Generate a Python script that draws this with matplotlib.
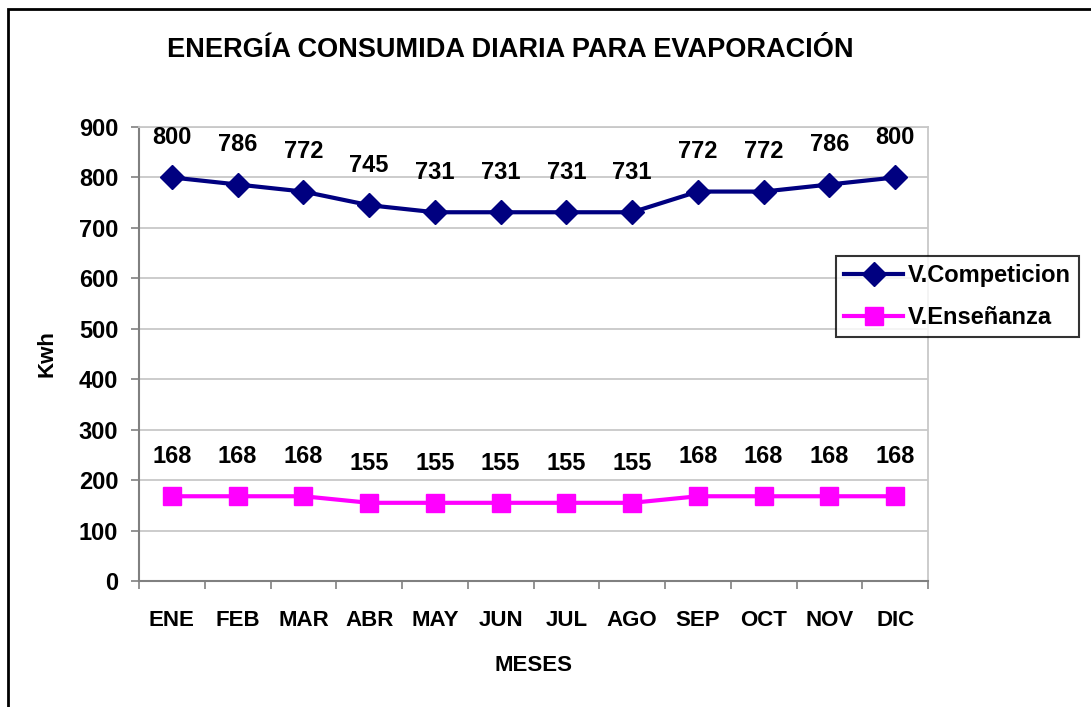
import matplotlib
matplotlib.use("Agg")
import matplotlib.pyplot as plt
from matplotlib.patches import Rectangle
import numpy as np

months = ["ENE", "FEB", "MAR", "ABR", "MAY", "JUN", "JUL", "AGO", "SEP", "OCT", "NOV", "DIC"]
competicion = [800, 786, 772, 745, 731, 731, 731, 731, 772, 772, 786, 800]
ensenanza = [168, 168, 168, 155, 155, 155, 155, 155, 168, 168, 168, 168]
yticks = [0, 100, 200, 300, 400, 500, 600, 700, 800, 900]

plt.rcParams['font.family'] = ['Liberation Sans', 'DejaVu Sans']
plt.rcParams['font.weight'] = 'bold'

W, H = 1091, 707
fig = plt.figure(figsize=(W / 100, H / 100), dpi=100)
ax = fig.add_axes([139 / W, 1 - 581 / H, (928 - 139) / W, (581 - 127) / H])

x = np.arange(len(months))
ax.plot(x, competicion, color="#000080", lw=3, marker="D", ms=12,
        mfc="#000080", mec="#000080", label="V.Competicion", zorder=3)
ax.plot(x, ensenanza, color="#FF00FF", lw=3, marker="s", ms=13,
        mfc="#FF00FF", mec="#FF00FF", label="V.Enseñanza", zorder=3)

for xi, v in zip(x, competicion):
    ax.annotate(str(v), (xi, v), xytext=(0, 28.5), textcoords="offset points",
                ha="center", va="center", fontsize=17, fontweight="bold")
for xi, v in zip(x, ensenanza):
    ax.annotate(str(v), (xi, v), xytext=(0, 28.5), textcoords="offset points",
                ha="center", va="center", fontsize=17, fontweight="bold")

ax.set_xlim(-0.5, len(months) - 0.5)
ax.set_ylim(0, 900)
ax.set_yticks(yticks)
ax.set_yticklabels([str(t) for t in yticks], fontsize=17, fontweight="bold")
ax.set_xticks(x)
ax.set_xticklabels(months, fontsize=16, fontweight="bold")
ax.tick_params(axis="x", which="major", length=0, pad=21)
ax.set_xticks(np.arange(-0.5, len(months), 1), minor=True)
ax.tick_params(axis="x", which="minor", length=6, width=1.2, color="#808080", direction="out")
ax.tick_params(axis="y", length=6, width=1.2, color="#808080", direction="out", pad=9)

ax.grid(axis="y", color="#C8C8C8", lw=1.3, zorder=0)
ax.set_axisbelow(True)
for s in ["left", "bottom"]:
    ax.spines[s].set_color("#808080")
    ax.spines[s].set_linewidth(1.5)
for s in ["top", "right"]:
    ax.spines[s].set_color("#C8C8C8")
    ax.spines[s].set_linewidth(1.3)

ax.set_xlabel("MESES", fontsize=16, fontweight="bold", labelpad=17)
ax.set_ylabel("Kwh", fontsize=16, fontweight="bold", labelpad=15)

fig.text(510 / W, 1 - 50 / H, "ENERGÍA CONSUMIDA DIARIA PARA EVAPORACIÓN",
         ha="center", va="center", fontsize=19.5, fontweight="bold")

leg = fig.legend(loc="upper left", bbox_to_anchor=(836 / W, 1 - 256 / H),
                 fontsize=17, frameon=True, fancybox=False, edgecolor="black",
                 handlelength=2.5, borderpad=0.35, labelspacing=0.8,
                 handletextpad=0.2, borderaxespad=0)
leg.get_frame().set_linewidth(1.5)
for t in leg.get_texts():
    t.set_fontweight("bold")

fig.patches.append(Rectangle((7.5 / W, -0.1), 1.2, 1 - 8.5 / H + 0.1,
                             transform=fig.transFigure, fill=False,
                             edgecolor="black", lw=2, figure=fig))

fig.savefig("out.png", dpi=100)
